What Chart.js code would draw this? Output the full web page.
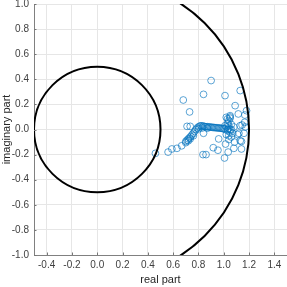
<!DOCTYPE html>
<html>
<head>
<meta charset="utf-8">
<script src="https://cdn.jsdelivr.net/npm/chart.js@4/dist/chart.umd.min.js"></script>
<style>
  html, body { margin: 0; padding: 0; background: #fff; }
  #wrap { width: 287px; height: 287px; }
</style>
</head>
<body>
<div id="wrap"><canvas id="plot" width="287" height="287"></canvas></div>
<script>
// tick positions
const xTicks = [-0.4, -0.2, 0, 0.2, 0.4, 0.6, 0.8, 1.0, 1.2, 1.4];
const yTicks = [-1.0, -0.8, -0.6, -0.4, -0.2, 0, 0.2, 0.4, 0.6, 0.8, 1.0];

// reference circles, centred on the origin
const circleRadii = [0.5, 1.2];

// scattered roots
const scatterPoints = [
  [0.90, 0.39], [0.84, 0.28], [0.68, 0.235], [1.01, 0.27], [1.13, 0.31],
  [0.73, 0.14], [1.09, 0.19], [1.18, 0.15], [1.115, 0.124], [1.02, 0.097],
  [1.05, 0.10], [1.167, 0.115], [0.71, 0.025], [0.735, 0.025], [1.165, 0.057],
  [1.145, 0.036], [1.13, 0.03], [1.17, 0.02], [0.84, -0.03], [0.96, -0.075],
  [1.04, -0.08], [1.11, -0.04], [1.16, -0.03], [1.12, -0.03], [1.13, -0.09],
  [1.085, -0.10], [1.14, -0.095], [1.014, -0.116], [1.14, -0.155], [1.035, -0.18],
  [0.954, -0.165], [0.917, -0.145], [1.006, -0.227], [0.836, -0.2], [0.86, -0.2],
  [1.08, -0.15], [0.46, -0.19], [0.56, -0.18], [0.59, -0.155], [0.63, -0.15],
  [0.667, -0.13], [0.70, -0.105], [0.72, -0.09], [0.735, -0.075], [0.76, -0.05]
];

// dense trail of roots
const bandPoints = [
  [0.70, -0.095], [0.71, -0.085], [0.72, -0.075], [0.73, -0.065], [0.74, -0.055],
  [0.75, -0.04], [0.76, -0.03], [0.77, -0.015], [0.78, 0.0], [0.79, 0.012],
  [0.80, 0.02], [0.81, 0.027], [0.82, 0.03], [0.83, 0.028], [0.84, 0.026],
  [0.85, 0.024], [0.86, 0.022], [0.87, 0.022], [0.88, 0.02], [0.89, 0.02],
  [0.90, 0.018], [0.91, 0.017], [0.92, 0.016], [0.93, 0.015], [0.94, 0.014],
  [0.95, 0.013], [0.96, 0.012], [0.97, 0.011], [0.98, 0.01], [0.99, 0.008],
  [1.00, 0.006], [1.01, 0.003], [0.80, 0.005], [0.83, 0.012], [0.87, 0.01]
];

// cluster near (1, 0)
const clusterPoints = [
  [1.02, 0.02], [1.03, -0.01], [1.04, 0.03], [1.05, -0.02], [1.03, 0.05],
  [1.04, 0.07], [1.05, 0.09], [1.06, 0.04], [1.06, 0.0], [1.07, -0.03],
  [1.02, -0.04], [1.04, -0.05], [1.08, 0.02], [1.05, 0.11], [1.03, 0.085],
  [1.06, -0.06], [1.01, 0.03], [1.03, 0.0], [1.04, 0.01], [1.05, 0.0]
];

const toXY = (pts) => pts.map(([x, y]) => ({ x, y }));

const circlesPlugin = {
  id: "circles",
  afterDatasetsDraw(chart) {
    const { ctx, chartArea, scales } = chart;
    const cx = scales.x.getPixelForValue(0);
    const cy = scales.y.getPixelForValue(0);
    ctx.save();
    ctx.beginPath();
    ctx.rect(chartArea.left, chartArea.top, chartArea.right - chartArea.left, chartArea.bottom - chartArea.top);
    ctx.clip();
    ctx.strokeStyle = "#000";
    ctx.lineWidth = 2;
    circleRadii.forEach((r) => {
      const rx = Math.abs(scales.x.getPixelForValue(r) - cx);
      const ry = Math.abs(scales.y.getPixelForValue(r) - cy);
      ctx.beginPath();
      ctx.ellipse(cx, cy, rx, ry, 0, 0, Math.PI * 2);
      ctx.stroke();
    });
    ctx.restore();
  },
};

// small inward tick marks like matlab
const innerTicks = {
  id: "innerTicks",
  afterDraw(chart) {
    const { ctx, chartArea, scales } = chart;
    ctx.save();
    ctx.strokeStyle = "#777";
    ctx.lineWidth = 1;
    xTicks.forEach((v) => {
      const px = Math.round(scales.x.getPixelForValue(v)) + 0.5;
      ctx.beginPath();
      ctx.moveTo(px, chartArea.bottom);
      ctx.lineTo(px, chartArea.bottom - 2.5);
      ctx.stroke();
    });
    yTicks.forEach((v) => {
      const py = Math.round(scales.y.getPixelForValue(v)) + 0.5;
      ctx.beginPath();
      ctx.moveTo(chartArea.left, py);
      ctx.lineTo(chartArea.left + 2.5, py);
      ctx.stroke();
    });
    ctx.restore();
  },
};

const markerStyle = {
  showLine: false,
  pointStyle: "circle",
  pointRadius: 3.4,
  pointBorderWidth: 0.8,
  pointBackgroundColor: "rgba(0,0,0,0)",
  pointBorderColor: "rgba(0,114,189,0.8)",
};

new Chart(document.getElementById("plot"), {
  type: "scatter",
  data: {
    datasets: [
      { data: toXY(scatterPoints), ...markerStyle },
      { data: toXY(bandPoints), ...markerStyle },
      { data: toXY(clusterPoints), ...markerStyle },
    ],
  },
  options: {
    responsive: false,
    animation: false,
    events: [],
    layout: { autoPadding: false, padding: { top: 4, right: 0, left: 0, bottom: 0 } },
    plugins: { legend: { display: false }, tooltip: { enabled: false } },
    scales: {
      x: {
        type: "linear",
        min: -0.5,
        max: 1.5,
        afterBuildTicks: (s) => { s.ticks = xTicks.map((v) => ({ value: v })); },
        afterFit: (s) => {
          s.height = 32;
          s.paddingLeft = 0;
          s.paddingRight = 0;
        },
        ticks: {
          callback: (v) => Number(v).toFixed(1),
          font: { family: "Liberation Sans", size: 10 },
          color: "#404040",
          padding: 4,
          maxRotation: 0,
        },
        grid: { color: "#e6e6e6", drawTicks: false },
        border: { color: "#808080" },
        title: {
          display: true,
          text: "real part",
          font: { family: "Liberation Sans", size: 11 },
          color: "#262626",
          padding: { top: 2, bottom: 0 },
        },
      },
      y: {
        type: "linear",
        min: -1,
        max: 1,
        afterBuildTicks: (s) => { s.ticks = yTicks.map((v) => ({ value: v })); },
        afterFit: (s) => {
          s.width = 34;
          s.paddingTop = 0;
          s.paddingBottom = 0;
        },
        ticks: {
          callback: (v) => Number(v).toFixed(1),
          font: { family: "Liberation Sans", size: 10 },
          color: "#404040",
          padding: 5,
        },
        grid: { color: "#e6e6e6", drawTicks: false },
        border: { color: "#808080" },
        title: {
          display: true,
          text: "imaginary part",
          font: { family: "Liberation Sans", size: 11 },
          color: "#262626",
          padding: { top: 0, bottom: 0 },
        },
      },
    },
  },
  plugins: [circlesPlugin, innerTicks],
});
</script>
</body>
</html>
